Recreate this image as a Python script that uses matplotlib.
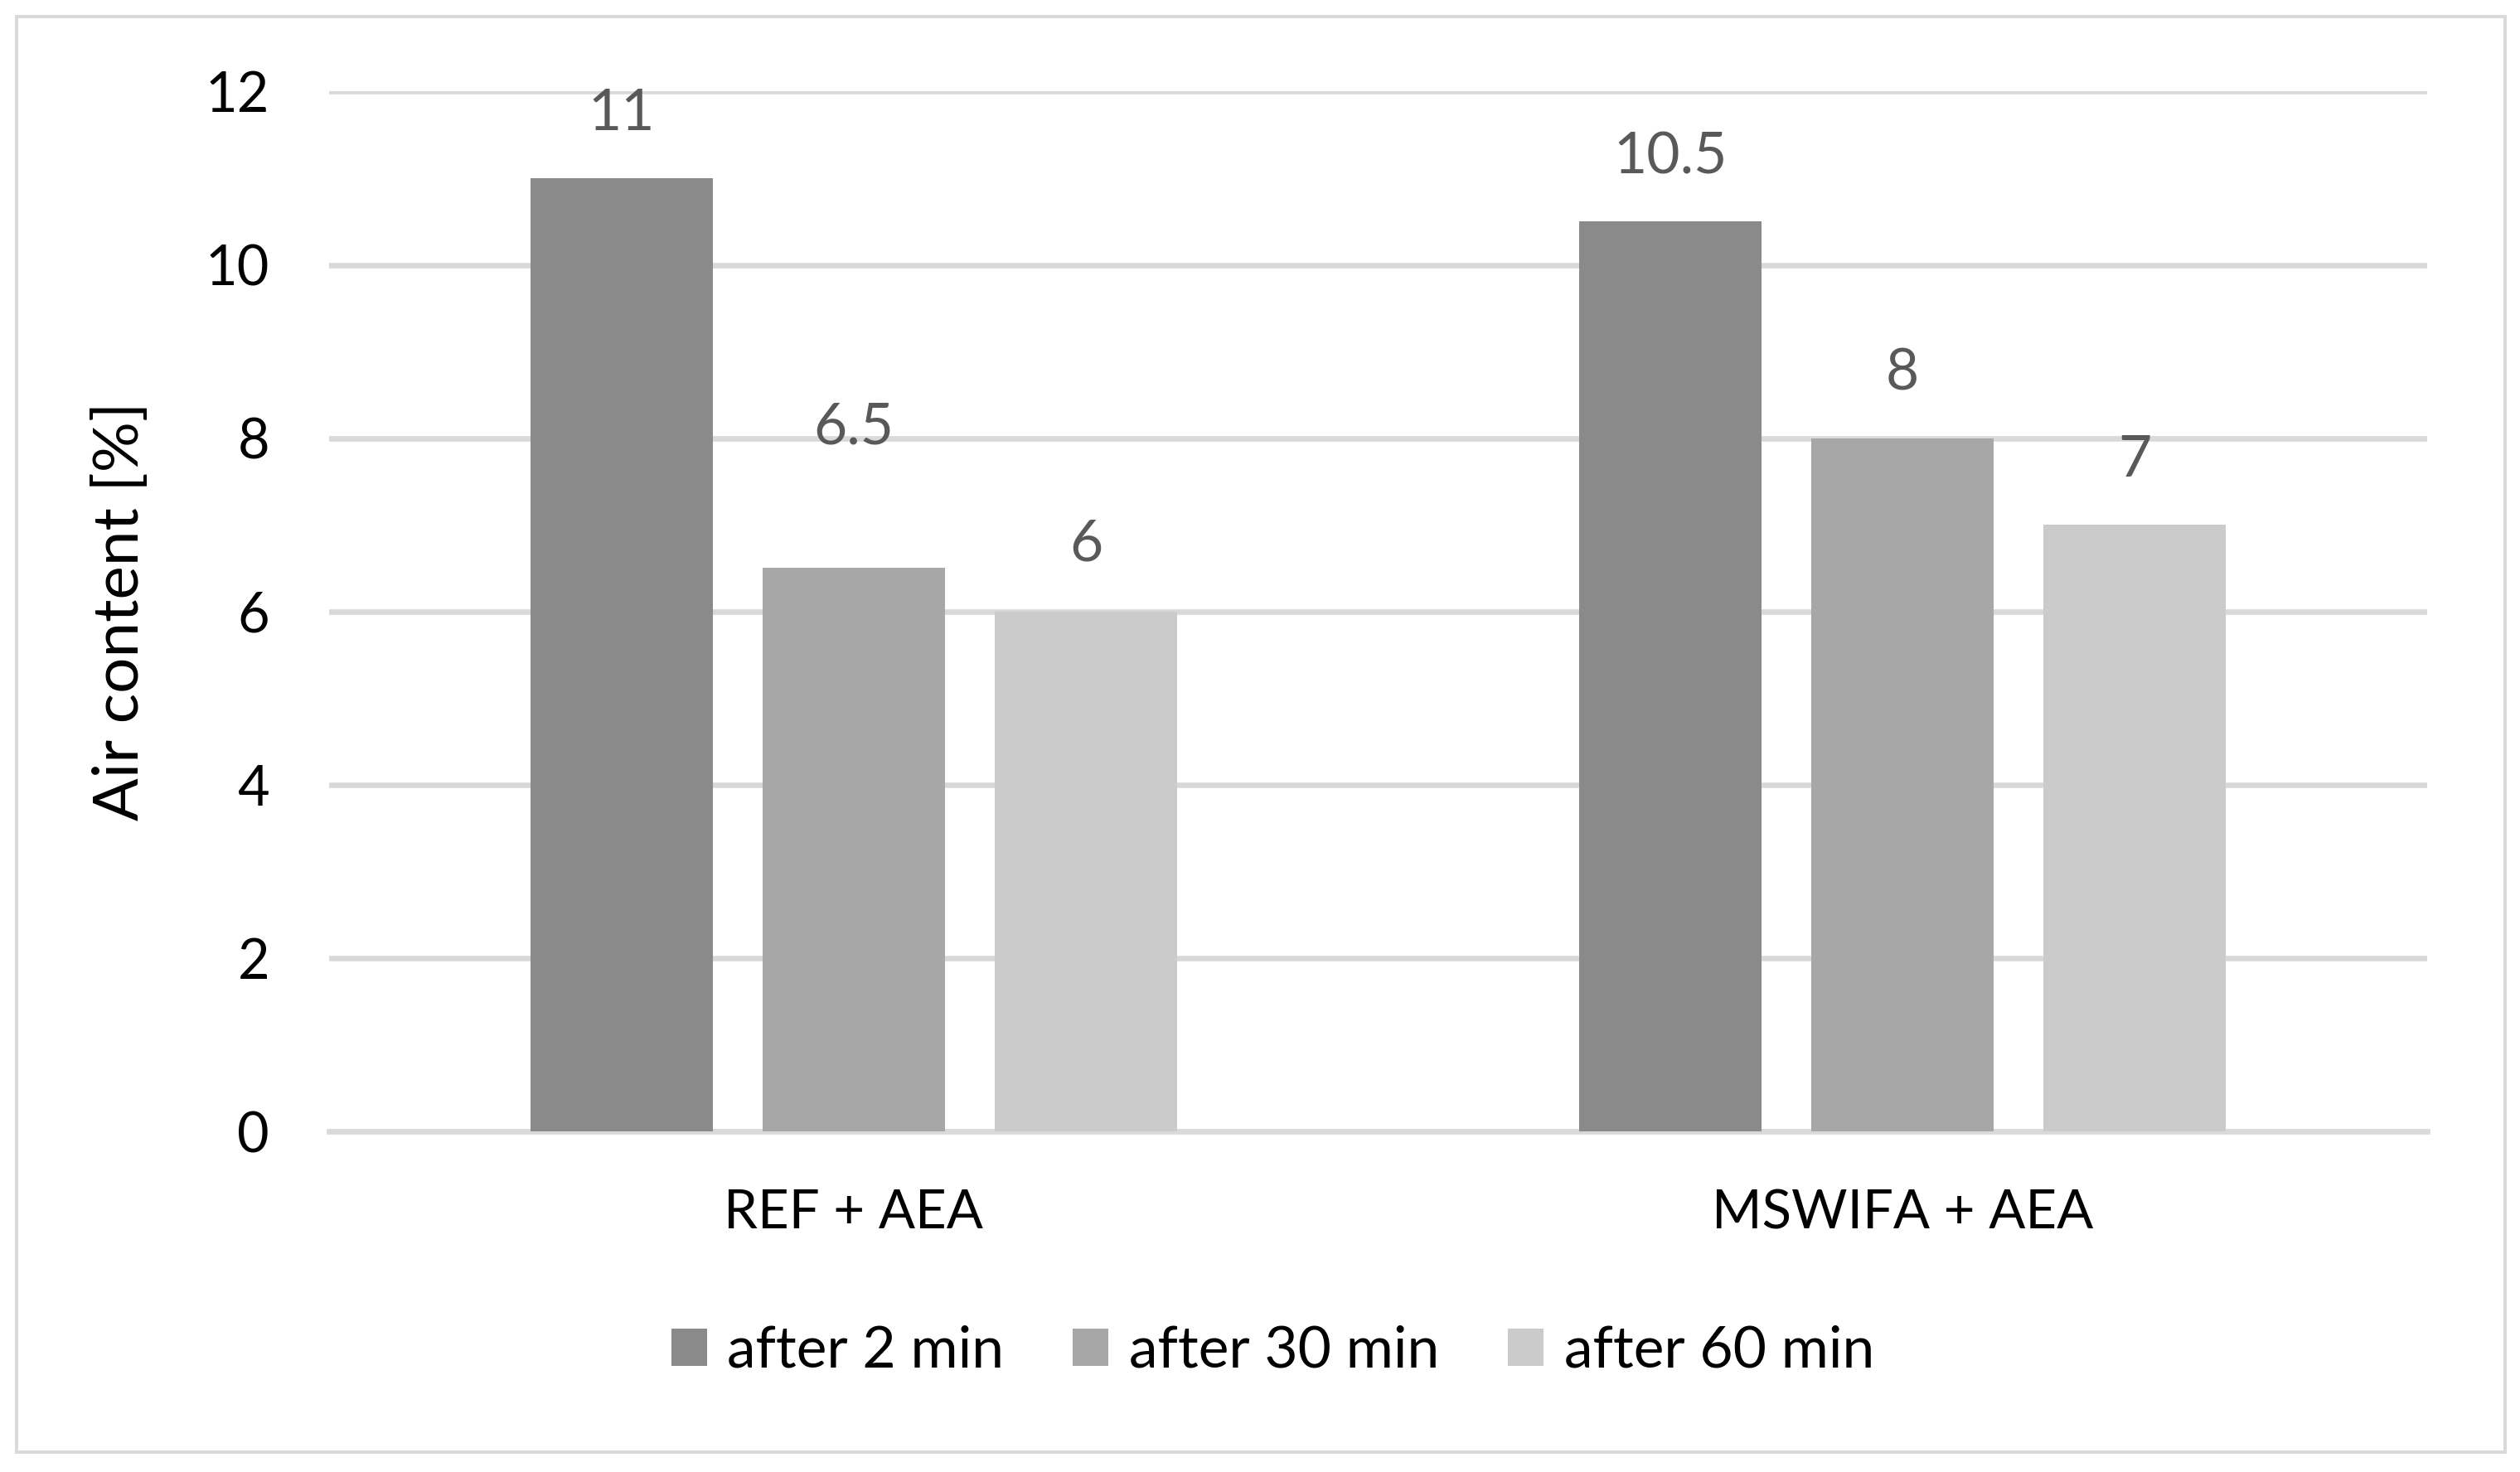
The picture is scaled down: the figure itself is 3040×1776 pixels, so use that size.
import numpy as np
import matplotlib
matplotlib.use("Agg")
import matplotlib.pyplot as plt
from matplotlib.patches import Rectangle

# data
groups = ["REF + AEA", "MSWIFA + AEA"]
series = ["after 2 min", "after 30 min", "after 60 min"]
after_2 = [11, 10.5]
after_30 = [6.5, 8]
after_60 = [6, 7]
yticks = [0, 2, 4, 6, 8, 10, 12]

colors = ["#8a8a8a", "#a7a7a7", "#cbcbcb"]
# label offsets above bar top, in points (the 6.5 label sits higher in the original)
label_offsets = [[28, 28], [61, 28], [29, 28]]

plt.rcParams["font.family"] = ["Lato", "DejaVu Sans"]

fig = plt.figure(figsize=(15.2, 8.88), dpi=200)
ax = fig.add_axes([0.1307, 0.2314, 0.8323, 0.7064])

x = np.arange(len(groups))
width = 0.174
step = 0.2215
for i, (vals, name) in enumerate(zip([after_2, after_30, after_60], series)):
    pos = x + (i - 1) * step
    ax.bar(pos, vals, width=width, color=colors[i], label=name, zorder=3)
    for p, v, off in zip(pos, vals, label_offsets[i]):
        ax.annotate(f"{v:g}", (p, v), xytext=(0, off), textcoords="offset points",
                    ha="center", va="center", fontsize=25, color="#595959")

ax.set_xlim(-0.5, 1.5)
ax.set_ylim(0, 12)
ax.set_yticks(yticks)
ax.set_xticks(x)
ax.set_xticklabels(groups)
ax.grid(axis="y", color="#d9d9d9", linewidth=2.4, zorder=0)
ax.tick_params(axis="both", length=0, labelsize=24, colors="black")
ax.tick_params(axis="x", labelsize=23.5, pad=25)
ax.tick_params(axis="y", pad=26)
for s in ["top", "right", "left"]:
    ax.spines[s].set_visible(False)
ax.spines["bottom"].set_color("#d9d9d9")
ax.spines["bottom"].set_linewidth(2.4)
ax.set_ylabel("Air content [%]", fontsize=27.5)
ax.yaxis.set_label_coords(-0.0858, 0.5)

fig.legend(loc="center", bbox_to_anchor=(0.505, 0.082), ncol=3, frameon=False,
           fontsize=25, handlelength=0.62, handleheight=0.62,
           handletextpad=0.35, columnspacing=1.2)

# outer chart border
fig.add_artist(Rectangle((0.0066, 0.0135), 0.9875, 0.975, transform=fig.transFigure,
                         fill=False, edgecolor="#d9d9d9", linewidth=1.4))

fig.savefig("out.png", dpi=200)
